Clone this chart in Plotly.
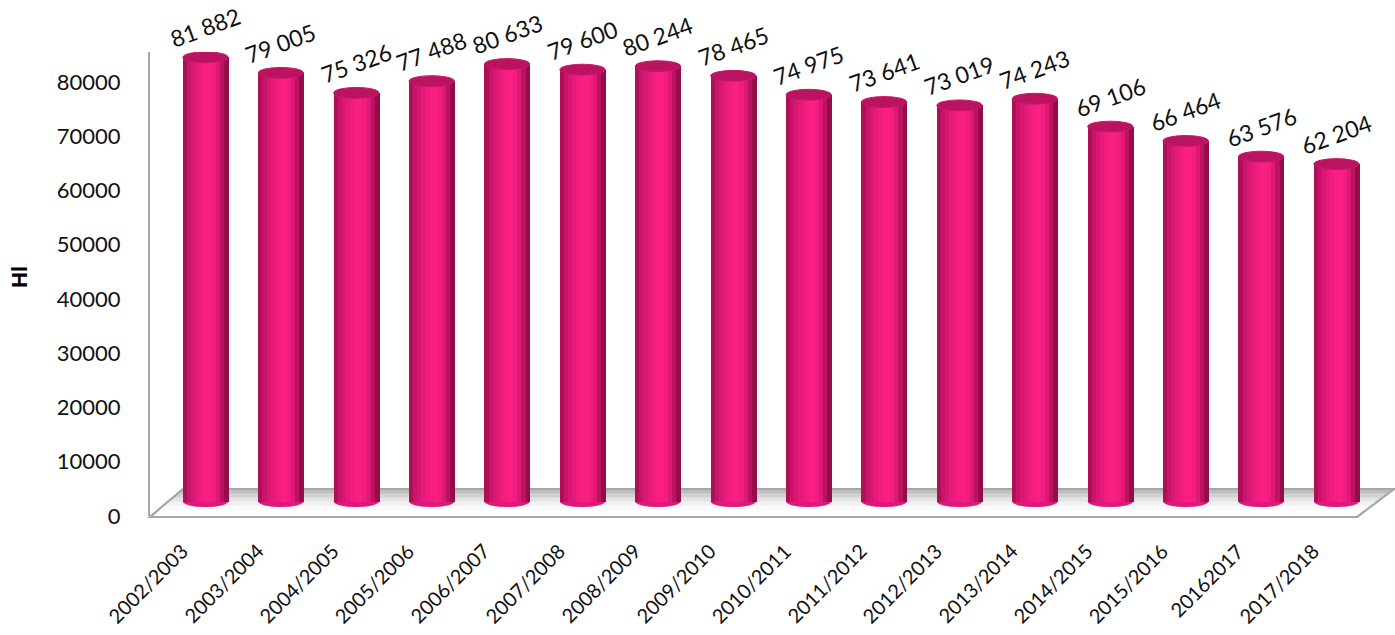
import plotly.graph_objects as go

# ---- data ----
categories = ["2002/2003", "2003/2004", "2004/2005", "2005/2006", "2006/2007",
              "2007/2008", "2008/2009", "2009/2010", "2010/2011", "2011/2012",
              "2012/2013", "2013/2014", "2014/2015", "2015/2016", "20162017",
              "2017/2018"]
values = [81882, 79005, 75326, 77488, 80633, 79600, 80244, 78465,
          74975, 73641, 73019, 74243, 69106, 66464, 63576, 62204]
y_ticks = [0, 10000, 20000, 30000, 40000, 50000, 60000, 70000, 80000]
y_title = "Hl"

# ---- style ----
FONT = "Lato"
DEPTH = 2650          # 3D depth lift of the cylinders (style)
HALF_W = 0.30         # half bar width (x units)
ELL_H = 1000          # half ellipse height (y units)
strip_colors = ["#AE1058", "#C8156B", "#DA1874", "#E61A7A", "#F01C7E",
                "#F81E82", "#FA1F83", "#F21D7F", "#DE1875", "#BC1361", "#940D4A"]

x = list(range(len(categories)))
fig = go.Figure()

n = len(strip_colors)
sw = 2 * HALF_W / n
for k, c in enumerate(strip_colors):
    fig.add_trace(go.Bar(
        x=x, y=values, base=DEPTH,
        offset=-HALF_W + k * sw, width=sw * 1.15,
        marker=dict(color=c, line=dict(width=0)),
        showlegend=False, hoverinfo="skip"))

shapes = []
# floor (paper coords): front-left, back-left, back-right, front-right
fl, bl, br, fr = (0.0, -0.002), (0.0273, 0.0582), (1.0281, 0.0582), (0.9975, -0.002)
grays = ["#ffffff", "#fbfbfb", "#f2f2f2", "#e4e4e4", "#d2d2d2", "#bebebe"]
def lerp(a, b, t):
    return (a[0] + (b[0] - a[0]) * t, a[1] + (b[1] - a[1]) * t)
shapes.append(dict(type="path", xref="paper", yref="paper", layer="below",
                   path=f"M{fl[0]},{fl[1]} L{bl[0]},{bl[1]} L{br[0]},{br[1]} L{fr[0]},{fr[1]} Z",
                   fillcolor="#ffffff", line=dict(color="#a6a6a6", width=2)))
for j, g in enumerate(grays[1:], start=1):
    t0 = 0.25 + 0.75 * (j - 1) / (len(grays) - 1)
    a = lerp(fl, bl, t0)
    d = lerp(fr, br, t0)
    shapes.append(dict(type="path", xref="paper", yref="paper", layer="below",
                       path=f"M{a[0]},{a[1]} L{bl[0]},{bl[1]} L{br[0]},{br[1]} L{d[0]},{d[1]} Z",
                       fillcolor=g, line=dict(width=0)))
shapes.append(dict(type="path", xref="paper", yref="paper", layer="below",
                   path=f"M{fl[0]},{fl[1]} L{bl[0]},{bl[1]} L{br[0]},{br[1]} L{fr[0]},{fr[1]} Z",
                   fillcolor="rgba(0,0,0,0)", line=dict(color="#a6a6a6", width=2)))

for i, v in zip(x, values):
    shapes.append(dict(type="circle", xref="x", yref="y", layer="below",
                       x0=i - HALF_W, x1=i + HALF_W, y0=DEPTH - ELL_H, y1=DEPTH + ELL_H,
                       fillcolor="#E0187A", line=dict(width=0)))
    shapes.append(dict(type="circle", xref="x", yref="y", layer="above",
                       x0=i - HALF_W, x1=i + HALF_W, y0=v + DEPTH - ELL_H, y1=v + DEPTH + ELL_H,
                       fillcolor="#BA1360", line=dict(color="#C9166B", width=1)))

annotations = []
for i, v in zip(x, values):
    annotations.append(dict(x=i, y=v + DEPTH, xref="x", yref="y",
                            text=f"{v:,}".replace(",", " "), showarrow=False,
                            textangle=-20, yshift=30, xshift=0,
                            font=dict(family=FONT, size=23, color="#111111")))
for i, c in zip(x, categories):
    annotations.append(dict(x=i, y=0, xref="x", yref="y", text=c, showarrow=False,
                            textangle=-45, xanchor="right", yanchor="top",
                            xshift=-10, yshift=-20,
                            font=dict(family=FONT, size=20, color="#111111")))
annotations.append(dict(x=(19 - 150) / 1210, y=(516 - 277) / 464, xref="paper", yref="paper",
                        text=f"<b>{y_title}</b>", showarrow=False, textangle=-90,
                        xanchor="center", yanchor="middle",
                        font=dict(family="Liberation Sans", size=22, color="#000000")))

fig.update_layout(
    width=1395, height=635,
    margin=dict(l=150, r=35, t=52, b=119),
    paper_bgcolor="white", plot_bgcolor="rgba(0,0,0,0)",
    barmode="overlay", bargap=0,
    shapes=shapes, annotations=annotations,
    font=dict(family=FONT, color="#111111"),
    xaxis=dict(range=[-0.736, 15.312], tickvals=x, showticklabels=False,
               showgrid=False, zeroline=False, showline=False, ticks=""),
    yaxis=dict(range=[0, 85500], tickvals=y_ticks, ticktext=[str(t) for t in y_ticks],
               showgrid=False, zeroline=False, showline=True, linecolor="#a6a6a6",
               linewidth=2, ticks="", ticklabelstandoff=23,
               tickfont=dict(family=FONT, size=22, color="#111111")),
)
fig.write_html("out.html", config={"displayModeBar": False},
               post_script="document.body.style.margin='0';")
